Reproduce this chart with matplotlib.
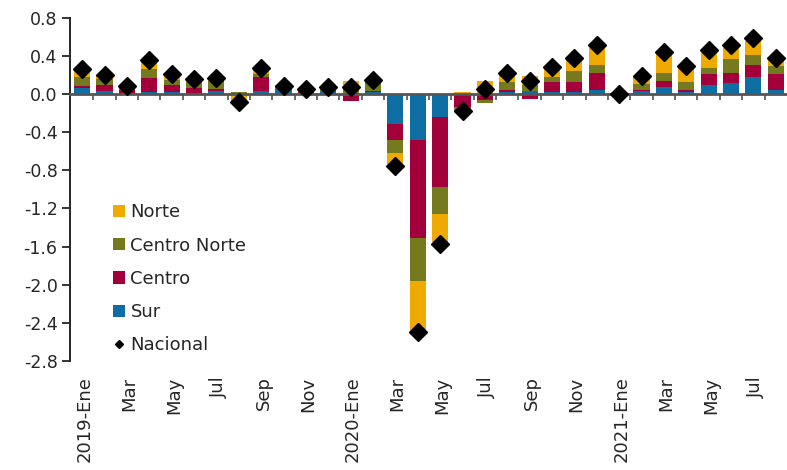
import matplotlib
matplotlib.use("Agg")
import matplotlib.pyplot as plt
import matplotlib.transforms as mtransforms
from matplotlib.patches import Patch
from matplotlib.lines import Line2D
import numpy as np

plt.rcParams['font.family'] = ['DejaVu Sans']
plt.rcParams['axes.unicode_minus'] = False

months = ["2019-Ene", "Feb", "Mar", "Abr", "May", "Jun", "Jul", "Ago", "Sep", "Oct", "Nov", "Dic",
          "2020-Ene", "Feb", "Mar", "Abr", "May", "Jun", "Jul", "Ago", "Sep", "Oct", "Nov", "Dic",
          "2021-Ene", "Feb", "Mar", "Abr", "May", "Jun", "Jul", "Ago"]

sur = [0.06, 0.035, 0.01, 0.02, 0.02, 0.015, 0.03, -0.01, 0.035, 0.05, 0.01, 0.03,
       0.01, 0.02, -0.315, -0.48, -0.24, -0.01, -0.01, 0.02, 0.03, 0.02, 0.02, 0.045,
       0.0, 0.03, 0.07, 0.02, 0.10, 0.12, 0.18, 0.045]
centro = [0.02, 0.06, 0.03, 0.15, 0.08, 0.05, 0.02, 0.0, 0.14, -0.01, 0.01, 0.0,
          -0.07, 0.01, -0.17, -1.03, -0.73, -0.13, -0.05, 0.02, -0.05, 0.105, 0.11, 0.18,
          -0.02, 0.01, 0.07, 0.025, 0.11, 0.105, 0.13, 0.165]
centro_norte = [0.10, 0.06, 0.03, 0.09, 0.045, 0.06, 0.09, 0.02, 0.035, 0.035, 0.02, 0.02,
                0.05, 0.11, -0.13, -0.455, -0.29, -0.04, -0.03, 0.09, 0.07, 0.05, 0.11, 0.08,
                0.0, 0.07, 0.08, 0.08, 0.065, 0.14, 0.105, 0.08]
norte = [0.06, 0.035, 0.02, 0.09, 0.05, 0.02, 0.03, -0.07, 0.05, 0.01, 0.015, 0.02,
         0.08, 0.02, -0.12, -0.52, -0.29, 0.02, 0.14, 0.09, 0.09, 0.09, 0.14, 0.18,
         0.02, 0.07, 0.21, 0.17, 0.16, 0.115, 0.14, 0.065]
nacional = [0.26, 0.20, 0.09, 0.36, 0.21, 0.16, 0.17, -0.08, 0.27, 0.09, 0.05, 0.07,
            0.07, 0.15, -0.75, -2.50, -1.57, -0.18, 0.05, 0.22, 0.14, 0.28, 0.38, 0.51,
            0.0, 0.19, 0.44, 0.30, 0.46, 0.51, 0.59, 0.38]

tick_labels = ["2019-Ene", "Mar", "May", "Jul", "Sep", "Nov",
               "2020-Ene", "Mar", "May", "Jul", "Sep", "Nov",
               "2021-Ene", "Mar", "May", "Jul"]
yticks = [0.8, 0.4, 0.0, -0.4, -0.8, -1.2, -1.6, -2.0, -2.4, -2.8]

C_NORTE, C_CN, C_CENTRO, C_SUR = "#EFAA00", "#767A1F", "#A3003B", "#0E6EA3"
series = [("Sur", sur, C_SUR),
          ("Centro", centro, C_CENTRO),
          ("Centro Norte", centro_norte, C_CN),
          ("Norte", norte, C_NORTE)]

fig = plt.figure(figsize=(7.87, 4.70), dpi=100)
ax = fig.add_axes([0.089, 0.232, 0.911, 0.730])

x = np.arange(len(months))
pos_base = np.zeros(len(months))
neg_base = np.zeros(len(months))
for name, vals, col in series:
    v = np.array(vals)
    bottoms = np.where(v >= 0, pos_base, neg_base)
    ax.bar(x, v, bottom=bottoms, width=0.72, color=col, linewidth=0, zorder=2)
    pos_base = pos_base + np.where(v >= 0, v, 0)
    neg_base = neg_base + np.where(v < 0, v, 0)

ax.plot(x, nacional, linestyle='none', marker='D', markersize=9, color='black', zorder=4)

ax.set_xlim(-0.54, len(months) - 0.5)
ax.set_ylim(-2.8, 0.8)
ax.set_yticks(yticks)
ax.set_yticklabels([f"{t:.1f}" for t in yticks], fontsize=12.5, color='#262626')
ax.tick_params(axis='y', direction='out', length=6, width=1.3, color='#262626', pad=3)

for s in ['top', 'right']:
    ax.spines[s].set_visible(False)
ax.spines['left'].set_color('#262626')
ax.spines['left'].set_linewidth(1.4)
ax.spines['bottom'].set_position(('data', 0))
ax.spines['bottom'].set_color('#555555')
ax.spines['bottom'].set_linewidth(2)
ax.spines['bottom'].set_zorder(3)
ax.set_xticks(x[:-1] + 0.5)
ax.set_xticklabels([])
ax.tick_params(axis='x', direction='out', length=4, width=1.2, color='#555555')

trans = mtransforms.blended_transform_factory(ax.transData, ax.transAxes)
for i, lab in enumerate(tick_labels):
    ax.text(x[2 * i] + 0.1, -0.045, lab, transform=trans, rotation=90, ha='center', va='top',
            fontsize=13, color='#262626')

handles = [Patch(facecolor=C_NORTE, label="Norte"),
           Patch(facecolor=C_CN, label="Centro Norte"),
           Patch(facecolor=C_CENTRO, label="Centro"),
           Patch(facecolor=C_SUR, label="Sur"),
           Line2D([], [], linestyle='none', marker='D', markersize=4.5, color='black', label="Nacional")]
leg = ax.legend(handles=handles, loc='upper left', bbox_to_anchor=(0.05, 0.48), frameon=False,
                fontsize=13, handlelength=0.66, handleheight=0.66, handletextpad=0.3,
                labelspacing=0.84, borderaxespad=0)
for t in leg.get_texts():
    t.set_color('#262626')

fig.savefig("out.png", dpi=100)
